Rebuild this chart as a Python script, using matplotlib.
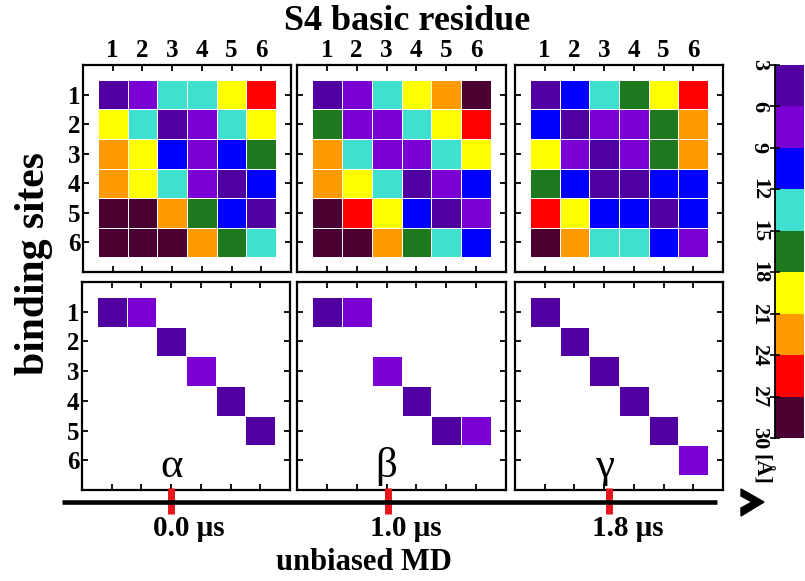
import numpy as np
import matplotlib
matplotlib.use("Agg")
import matplotlib.pyplot as plt
from matplotlib.colors import ListedColormap, BoundaryNorm
from matplotlib.lines import Line2D
from matplotlib.patches import Polygon
import matplotlib.transforms as mtransforms

# ---------------- data ----------------
residues = [1, 2, 3, 4, 5, 6]          # S4 basic residue
sites = [1, 2, 3, 4, 5, 6]             # binding sites
dist_bounds = [3, 6, 9, 12, 15, 18, 21, 24, 27, 30]   # [Å]
dist_colors = ["#5000A0", "#7B00D4", "#0000FF", "#40E0D0", "#1E781E",
               "#FFFF00", "#FF9A00", "#FF0000", "#4B0032"]

state_names = ["α", "β", "γ"]
state_times = ["0.0 μs", "1.0 μs", "1.8 μs"]

# distance matrices (rows = binding sites, cols = residues), Å
alpha_dist = [
    [4.5, 7.5, 13.5, 13.5, 19.5, 25.5],
    [19.5, 13.5, 4.5, 7.5, 13.5, 19.5],
    [22.5, 19.5, 10.5, 7.5, 10.5, 16.5],
    [22.5, 19.5, 13.5, 7.5, 4.5, 10.5],
    [28.5, 28.5, 22.5, 16.5, 10.5, 4.5],
    [28.5, 28.5, 28.5, 22.5, 16.5, 13.5],
]
beta_dist = [
    [4.5, 7.5, 13.5, 19.5, 22.5, 28.5],
    [16.5, 7.5, 7.5, 13.5, 19.5, 25.5],
    [22.5, 13.5, 7.5, 7.5, 13.5, 19.5],
    [22.5, 19.5, 13.5, 4.5, 7.5, 10.5],
    [28.5, 25.5, 19.5, 10.5, 4.5, 7.5],
    [28.5, 28.5, 22.5, 16.5, 13.5, 10.5],
]
gamma_dist = [
    [4.5, 10.5, 13.5, 16.5, 19.5, 25.5],
    [10.5, 4.5, 7.5, 7.5, 16.5, 22.5],
    [19.5, 7.5, 4.5, 7.5, 16.5, 22.5],
    [16.5, 10.5, 4.5, 4.5, 10.5, 10.5],
    [25.5, 19.5, 10.5, 10.5, 4.5, 10.5],
    [28.5, 22.5, 13.5, 13.5, 10.5, 7.5],
]
# salt-bridge contacts (site, residue)
alpha_contacts = [(1, 1), (1, 2), (2, 3), (3, 4), (4, 5), (5, 6)]
beta_contacts = [(1, 1), (1, 2), (3, 3), (4, 4), (5, 5), (5, 6)]
gamma_contacts = [(1, 1), (2, 2), (3, 3), (4, 4), (5, 5), (6, 6)]

# ---------------- style ----------------
W, H = 805, 581
plt.rcParams["font.family"] = ["Liberation Serif", "DejaVu Serif"]
plt.rcParams["font.weight"] = "bold"
fig = plt.figure(figsize=(W / 100, H / 100), dpi=100)

cmap = ListedColormap(dist_colors)
cmap.set_bad((0, 0, 0, 0))
norm = BoundaryNorm(dist_bounds, cmap.N)


def px_axes(x0, y0, x1, y1):
    return fig.add_axes([x0 / W, 1 - y1 / H, (x1 - x0) / W, (y1 - y0) / H])


top_px = [(83, 65, 291, 272), (297, 65, 506, 272), (515, 65, 723, 272)]
bot_px = [(82, 282, 290, 490), (297, 282, 506, 490), (515, 282, 723, 490)]
mark_x = [3.0, 3.05, 3.18]

edges = np.arange(0.5, 7.0, 1.0)
dists = [alpha_dist, beta_dist, gamma_dist]
contacts = [alpha_contacts, beta_contacts, gamma_contacts]


def style_axes(ax, labeltop, labelleft):
    ax.set_xlim(0, 7)
    ax.set_ylim(7, 0)
    ax.set_xticks(residues)
    ax.set_yticks(sites)
    ax.tick_params(axis="both", direction="in", top=True, bottom=True,
                   left=True, right=True, labeltop=labeltop,
                   labelbottom=False, labelleft=labelleft, labelright=False,
                   length=4.5, width=1.3, labelsize=18, pad=2)
    for s in ax.spines.values():
        s.set_linewidth(1.6)


for i in range(3):
    d = np.array(dists[i], dtype=float)
    ax = px_axes(*top_px[i])
    ax.pcolormesh(edges, edges, d, cmap=cmap, norm=norm,
                  edgecolors="white", linewidth=0.7)
    style_axes(ax, True, i == 0)

    sel = np.full_like(d, np.nan)
    for (s_, r_) in contacts[i]:
        sel[s_ - 1, r_ - 1] = d[s_ - 1, r_ - 1]
    axb = px_axes(*bot_px[i])
    axb.pcolormesh(edges, edges, np.ma.masked_invalid(sel), cmap=cmap,
                   norm=norm, edgecolors="white", linewidth=0.7)
    style_axes(axb, False, i == 0)
    axb.text(3, 6.55, state_names[i], ha="center", va="baseline",
             fontsize=31, fontweight="normal")

    # red time mark on timeline
    tr = mtransforms.blended_transform_factory(axb.transData, fig.transFigure)
    axb.add_line(Line2D([mark_x[i], mark_x[i]], [1 - 488 / H, 1 - 514 / H],
                        color="#E8141B", lw=5, transform=tr, clip_on=False,
                        zorder=10, solid_capstyle="butt"))
    tr_off = mtransforms.offset_copy(tr, fig=fig, x=18, y=0, units="dots")
    axb.text(mark_x[i], 1 - 528 / H, state_times[i], transform=tr_off,
             ha="center", va="center", fontsize=21, fontweight="bold")

# timeline axis
fig.add_artist(Line2D([62 / W, 717 / W], [1 - 502 / H, 1 - 502 / H],
                      color="black", lw=3.3, transform=fig.transFigure,
                      solid_capstyle="butt", zorder=5))
arrow_px = [(741, 489), (764, 502), (741, 516), (741, 508), (752, 502), (741, 496)]
fig.add_artist(Polygon([(x / W, 1 - y / H) for x, y in arrow_px], closed=True,
                       facecolor="black", edgecolor="black",
                       transform=fig.transFigure))

# colour bar
cax = px_axes(775, 65, 804, 438)
sm = plt.cm.ScalarMappable(cmap=cmap, norm=norm)
cb = fig.colorbar(sm, cax=cax, boundaries=dist_bounds, ticks=dist_bounds,
                  drawedges=True)
cb.dividers.set_color("white")
cb.dividers.set_linewidth(2)
cb.outline.set_visible(False)
cax.invert_yaxis()
cax.yaxis.set_ticks_position("left")
cax.yaxis.set_label_position("left")
cax.tick_params(axis="y", direction="inout", length=7, width=1.2,
                labelsize=16, pad=1)
for lab in cax.get_yticklabels():
    lab.set_rotation(-90)
    lab.set_va("center")
    lab.set_ha("right")
cax.spines["left"].set_visible(True)
cax.spines["left"].set_linewidth(1.3)
fig.text(760 / W, 1 - 469 / H, "[Å]", rotation=-90, ha="center", va="center",
         fontsize=16, fontweight="bold")

# titles / labels
fig.text(407 / W, 1 - 21 / H, "S4 basic residue", ha="center", va="center",
         fontsize=26, fontweight="bold")
fig.text(34 / W, 1 - 264 / H, "binding sites", rotation=90, ha="center",
         va="center", fontsize=30, fontweight="bold")
fig.text(364 / W, 1 - 563 / H, "unbiased MD", ha="center", va="center",
         fontsize=22, fontweight="bold")

fig.savefig("out.png", dpi=100)
